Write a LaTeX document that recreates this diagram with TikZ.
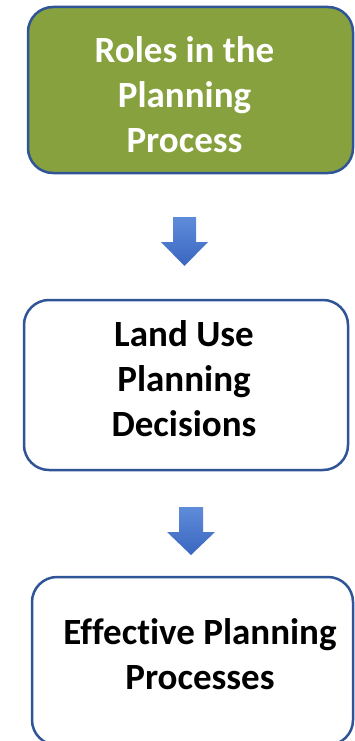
\documentclass[tikz,border=0pt]{standalone}
\usepackage{fontspec}
\setmainfont{Carlito}[Ligatures=NoCommon]
\definecolor{verde}{RGB}{134,161,61}
\definecolor{borde}{RGB}{47,85,151}
\definecolor{azulclaro}{RGB}{95,140,218}
\definecolor{azul}{RGB}{58,102,192}
\tikzset{
  caja/.style={draw=borde, line width=2.5pt, rounded corners=25pt, inner sep=0pt},
  texto/.style={align=center, font=\fontsize{37}{45}\selectfont\bfseries, inner sep=0pt},
  flecha/.style={top color=azulclaro, bottom color=azul, draw=none}
}
\begin{document}
\begin{tikzpicture}[x=1pt,y=-1pt]
\useasboundingbox (0,0) rectangle (354,741);

% Cajas
\node[caja, fill=verde, minimum width=325pt, minimum height=166pt] (roles) at (190.5,90) {};
\node[caja, fill=white, minimum width=324pt, minimum height=170pt] (decisiones) at (186,385) {};
\node[caja, fill=white, minimum width=321pt, minimum height=168pt] (procesos) at (192.5,661) {};

% Textos
\node[texto, text=white] (rolestexto) at (184.5,95) {Roles in the\\Planning\\Process};
\node[texto] (decisionestexto) at (184,379) {Land Use\\Planning\\Decisions};
\node[texto] (procesostexto) at (200,654) {Effective Planning\\Processes};

% Flechas
\shade[flecha] (173,217) -- (196,217) -- (196,242) -- (208,242) -- (184.5,266) -- (161,242) -- (173,242) -- cycle;
\shade[flecha] (179,507) -- (203,507) -- (203,532) -- (215,532) -- (191,555) -- (167,532) -- (179,532) -- cycle;
\end{tikzpicture}
\end{document}
